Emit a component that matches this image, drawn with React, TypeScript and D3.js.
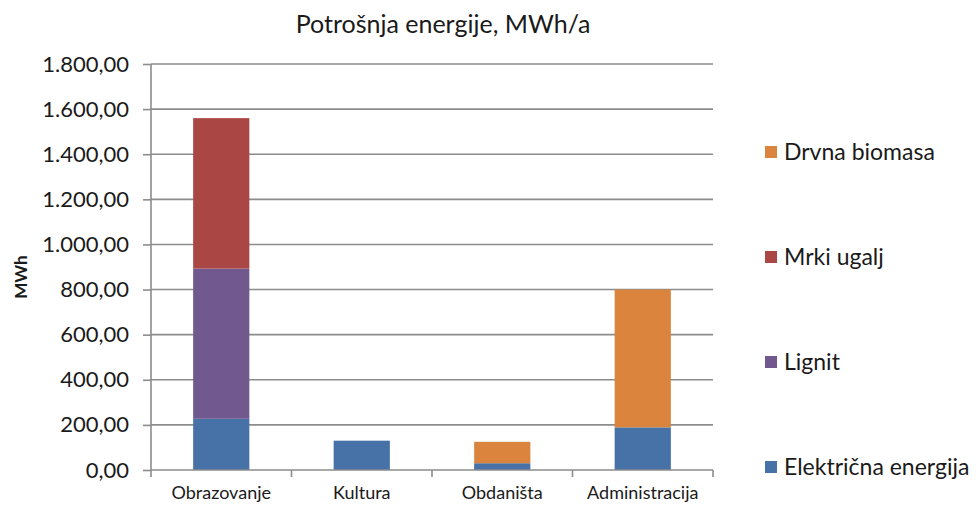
import React, { useRef, useEffect } from 'react';
import * as d3 from 'd3';

// categories and series (MWh/a)
const categories = ['Obrazovanje', 'Kultura', 'Obdaništa', 'Administracija'];
const seriesNames = ['Električna energija', 'Lignit', 'Mrki ugalj', 'Drvna biomasa'];
const elektricna = [227, 130, 30, 189];
const lignit = [666, 0, 0, 0];
const mrkiUgalj = [667, 0, 0, 0];
const drvnaBiomasa = [0, 0, 95, 611];
const seriesColors = ['#4672A8', '#71588F', '#AA4643', '#DB843D'];
const yTicks = [0, 200, 400, 600, 800, 1000, 1200, 1400, 1600, 1800];

const App: React.FC = () => {
    const chartRef = useRef<SVGSVGElement | null>(null);

    useEffect(() => {
        if (!chartRef.current) return;
        const width = 976;
        const height = 506;
        const margin = { top: 64, right: 263, bottom: 36, left: 151 };
        const font = 'Lato, "Open Sans", sans-serif';

        const svg = d3.select(chartRef.current)
            .attr('width', width)
            .attr('height', height);
        svg.selectAll('*').remove();

        const rows = categories.map((c, i) => ({
            category: c,
            'Električna energija': elektricna[i],
            'Lignit': lignit[i],
            'Mrki ugalj': mrkiUgalj[i],
            'Drvna biomasa': drvnaBiomasa[i],
        }));
        const stacked = d3.stack<any>().keys(seriesNames)(rows);

        const x = d3.scaleBand()
            .domain(categories)
            .range([margin.left, width - margin.right])
            .paddingInner(0.6)
            .paddingOuter(0.3);
        const y = d3.scaleLinear()
            .domain([0, 1800])
            .range([height - margin.bottom, margin.top]);

        // grid lines
        svg.append('g')
            .selectAll('line')
            .data(yTicks.slice(1))
            .enter()
            .append('line')
            .attr('x1', margin.left)
            .attr('x2', width - margin.right)
            .attr('y1', d => y(d))
            .attr('y2', d => y(d))
            .attr('stroke', '#8c8c8c')
            .attr('stroke-width', 1.6);

        // bars
        svg.append('g')
            .selectAll('g')
            .data(stacked)
            .enter()
            .append('g')
            .attr('fill', (d, i) => seriesColors[i])
            .selectAll('rect')
            .data(d => d)
            .enter()
            .append('rect')
            .attr('x', d => x(d.data.category) as number)
            .attr('y', d => y(d[1]))
            .attr('width', x.bandwidth())
            .attr('height', d => y(d[0]) - y(d[1]));

        // y axis
        const fmt = d3.formatLocale({ decimal: ',', thousands: '.', grouping: [3], currency: ['', ''] }).format(',.2f');
        const yAxis = d3.axisLeft(y)
            .tickValues(yTicks)
            .tickSize(8)
            .tickFormat(d => fmt(d as number));
        const yg = svg.append('g')
            .attr('transform', `translate(${margin.left}, 0)`)
            .call(yAxis);
        yg.selectAll('line, path').attr('stroke', '#8c8c8c').attr('stroke-width', 1.6);
        yg.select('path').attr('d', `M0,${y(0)}V${y(1800)}`);
        yg.selectAll('text')
            .attr('x', -22)
            .attr('fill', '#1a1a1a')
            .style('font-family', font)
            .style('font-size', '22px');

        // x axis
        const xAxis = d3.axisBottom(x).tickSize(0);
        const xg = svg.append('g')
            .attr('transform', `translate(0, ${y(0)})`)
            .call(xAxis);
        xg.select('path').attr('stroke', '#8c8c8c').attr('stroke-width', 1.6)
            .attr('d', `M${margin.left},0H${width - margin.right}`);
        xg.selectAll('text')
            .attr('y', 16)
            .attr('fill', '#1a1a1a')
            .style('font-family', font)
            .style('font-size', '18px');
        // category separator ticks
        const step = x.step();
        xg.selectAll('.sep')
            .data(d3.range(categories.length + 1))
            .enter()
            .append('line')
            .attr('x1', i => margin.left + i * step)
            .attr('x2', i => margin.left + i * step)
            .attr('y1', 0)
            .attr('y2', 7)
            .attr('stroke', '#8c8c8c')
            .attr('stroke-width', 1.6);

        // title
        svg.append('text')
            .attr('x', 443)
            .attr('y', 33)
            .attr('text-anchor', 'middle')
            .attr('fill', '#1a1a1a')
            .style('font-family', font)
            .style('font-size', '25px')
            .text('Potrošnja energije, MWh/a');

        // y label
        svg.append('text')
            .attr('transform', 'rotate(-90)')
            .attr('x', -(margin.top + y(0)) / 2 - 10)
            .attr('y', 27)
            .attr('text-anchor', 'middle')
            .attr('fill', '#1a1a1a')
            .style('font-family', font)
            .style('font-size', '17px')
            .style('font-weight', 'bold')
            .text('MWh');

        // legend (top to bottom reversed)
        const legendRows = [...seriesNames].reverse();
        const legendColors = [...seriesColors].reverse();
        const lg = svg.append('g');
        legendRows.forEach((name, i) => {
            const cy = 152 + i * 105;
            lg.append('rect')
                .attr('x', 765)
                .attr('y', cy - 6)
                .attr('width', 12)
                .attr('height', 12)
                .attr('fill', legendColors[i]);
            lg.append('text')
                .attr('x', 784)
                .attr('y', cy)
                .attr('dy', '0.35em')
                .attr('fill', '#1a1a1a')
                .style('font-family', font)
                .style('font-size', '23px')
                .text(name);
        });
    }, []);

    return (
        <div style={{ position: 'absolute', left: 0, top: 0, background: '#fff' }}>
            <svg ref={chartRef}></svg>
        </div>
    );
};

export default App;
